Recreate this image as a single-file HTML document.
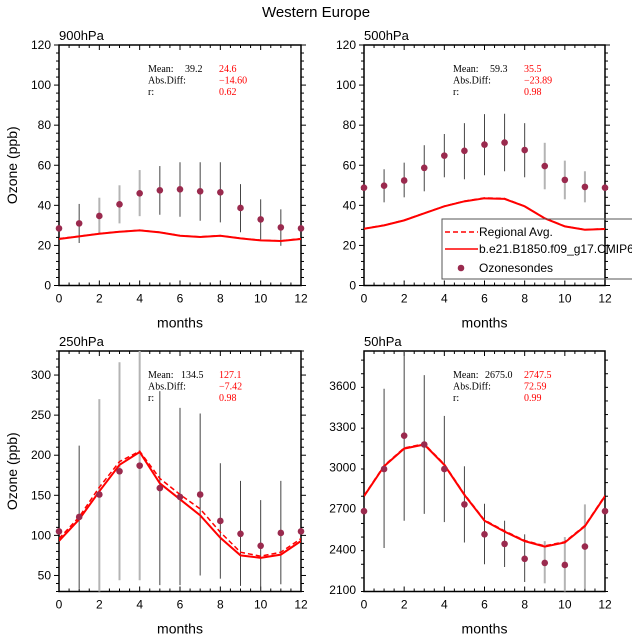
<!DOCTYPE html>
<html><head><meta charset="utf-8"><style>
body{margin:0;background:#fff}
svg text{font-family:"Liberation Sans",sans-serif}
.st{font-family:"Liberation Serif",serif;font-size:10px}
</style></head><body>
<svg id="chart" width="632" height="639" xmlns="http://www.w3.org/2000/svg">
<text x="316" y="17" font-size="15" text-anchor="middle">Western Europe</text>
</svg>
<script>
const months=[0,1,2,3,4,5,6,7,8,9,10,11,12];
// 900hPa
const obs900=[28.5,31,34.7,40.5,46,47.5,48,47,46.5,38.7,33,29,28.5];
const hi900=[null,40.7,43.8,50,57.6,59.6,61.5,61.5,61.5,50.6,43,38,null];
const lo900=[null,21.2,25.5,31,34.6,35.3,34.3,32.3,31.5,26.6,23,19.8,null];
const mod900=[23.2,24.5,25.8,26.8,27.5,26.5,24.8,24.2,24.8,23.5,22.5,22.2,23.2];
const reg900=[23.4,24.6,25.9,26.9,27.6,26.6,24.9,24.3,24.9,23.6,22.6,22.3,23.4];
// 500hPa
const obs500=[48.8,49.8,52.4,58.7,64.8,67.2,70.3,71.3,67.6,59.6,52.7,49.2,48.8];
const hi500=[null,58,61.3,70,75.6,81,85.5,85.7,81,71.2,62.3,57,null];
const lo500=[null,41.5,44,47,54,53,55,57,54,48,43,41.5,null];
const mod500=[28.3,30,32.5,36,39.5,42,43.5,43.2,39.5,33.5,29.5,27.8,28.2];
const reg500=[28.4,30.1,32.6,36.1,39.6,42.1,43.7,43.4,39.6,33.6,29.6,27.9,28.3];
// 250hPa
const obs250=[105,123,151,180,187,159,148,151,118,102,87,103,105];
const hi250=[null,212,270,316,335,280,259,252,190,168,144,168,null];
const lo250=[null,34,30,44,44,38,38,50,46,37,30,39,null];
const mod250=[93,120,155,188,204,165,145,125,97,75,72,76,93];
const reg250=[96,123,160,192,205,171,151,133,104,79,74,79,96];
// 50hPa
const obs50=[2680,2990,3235,3170,2990,2730,2510,2440,2330,2300,2285,2420,2680];
const hi50=[null,3580,3860,3680,3380,3010,2735,2610,2510,2460,2490,2730,null];
const lo50=[null,2410,2610,2660,2600,2450,2290,2270,2160,2150,2090,2110,null];
const mod50=[2790,3010,3140,3170,3020,2800,2610,2530,2460,2420,2450,2570,2790];
const reg50=[2795,3015,3145,3175,3025,2805,2615,2535,2465,2425,2455,2575,2795];
const yt900=[0,20,40,60,80,100,120], yt250=[50,100,150,200,250,300], yt50=[2100,2400,2700,3000,3300,3600];
const xt=[0,2,4,6,8,10,12];

const NS='http://www.w3.org/2000/svg', svg=document.getElementById('chart');
function el(t,a,p){const e=document.createElementNS(NS,t);for(const k in a)e.setAttribute(k,a[k]);(p||svg).appendChild(e);return e;}

function panel(o){
  const g=el('g',{});
  
  
  const X=m=>o.x0+(o.x1-o.x0)*m/12;
  const Y=v=>o.yb-(v-o.ymin)*(o.yb-o.yt)/(o.ymax-o.ymin);
  // frame
  const fr=el('rect',{x:o.x0,y:o.yt,width:o.x1-o.x0,height:o.yb-o.yt,fill:'none',stroke:'#000','stroke-width':1.5},g);
  
  
  // x ticks
  for(let m=0;m<=12;m+=0.5){const maj=m%2===0;const L=maj?5:3;
    el('line',{x1:X(m),x2:X(m),y1:o.yb,y2:o.yb-L,stroke:'#000'},g);
    el('line',{x1:X(m),x2:X(m),y1:o.yt,y2:o.yt+L,stroke:'#000'},g);}
  xt.forEach(m=>{const t=el('text',{x:X(m),y:o.yb+17,'font-size':12,'text-anchor':'middle'},g);t.textContent=m;
    
    });
  // y ticks
  for(let v=o.ymin;v<=o.ymax+1e-6;v+=o.minor){const maj=o.yticks.some(t=>Math.abs(t-v)<1e-6);const L=maj?5:3;
    el('line',{x1:o.x0,x2:o.x0-L,y1:Y(v),y2:Y(v),stroke:'#000'},g);
    el('line',{x1:o.x1,x2:o.x1+L,y1:Y(v),y2:Y(v),stroke:'#000'},g);}
  o.yticks.forEach(v=>{const t=el('text',{x:o.x0-8,y:Y(v)+4,'font-size':12,'text-anchor':'end'},g);t.textContent=v;
    
    });
  // labels
  const lb=el('text',{x:o.x0,y:o.yt-5,'font-size':13},g);lb.textContent=o.label;
  
  
  const xl=el('text',{x:(o.x0+o.x1)/2,y:o.yb+42,'font-size':14,'text-anchor':'middle'},g);xl.textContent='months';
  
  
  if(o.ytitle){const yl=el('text',{x:0,y:0,'font-size':14,'text-anchor':'middle',transform:`translate(17,${(o.yt+o.yb)/2}) rotate(-90)`},g);yl.textContent='Ozone (ppb)';
    
    }
  // clip
  const cid='c'+o.name;const cp=el('clipPath',{id:cid},g);el('rect',{x:o.x0,y:o.yt,width:o.x1-o.x0,height:o.yb-o.yt},cp);
  const pg=el('g',{'clip-path':`url(#${cid})`},g);
  // error bars
  months.forEach((m,i)=>{if(o.hi[i]==null)return;
    const b=el('line',{x1:X(m),x2:X(m),y1:Y(o.hi[i]),y2:Y(o.lo[i]),stroke:o.light.includes(m)?'#b4b4b4':'#444','stroke-width':o.light.includes(m)?2:1},pg);
    
    });
  const pts=a=>a.map((v,i)=>X(months[i])+','+Y(v)).join(' ');
  const r=el('polyline',{points:pts(o.reg),fill:'none',stroke:'#f00','stroke-width':1.5,'stroke-dasharray':'5,3'},pg);
  
  
  const md=el('polyline',{points:pts(o.mod),fill:'none',stroke:'#f00','stroke-width':2},pg);
  
  
  months.forEach((m,i)=>{const c=el('circle',{cx:X(m),cy:Y(o.obs[i]),r:3.3,fill:'#9a2a4e'},g);
    
    });
  // stats
  const sx=o.x0+89, sy=o.yt+27;
  const S=(x,y,s,c,n)=>{const t=el('text',{x,y,class:'st',fill:c},g);t.textContent=s;
    
    };
  S(sx,sy,'Mean:','#000','mean-label');S(sx+o.mx,sy,o.s[0],'#000','obs-mean');S(sx+71,sy,o.s[1],'#f00','model-mean');
  S(sx,sy+11.5,'Abs.Diff:','#000','absdiff-label');S(sx+71,sy+11.5,o.s[2],'#f00','absdiff-value');
  S(sx,sy+23,'r:','#000','r-label');S(sx+71,sy+23,o.s[3],'#f00','r-value');
}
panel({name:'panel-900hpa',label:'900hPa',x0:59,x1:301,yt:45,yb:285.5,ymin:0,ymax:120,minor:4,yticks:yt900,ytitle:true,obs:obs900,hi:hi900,lo:lo900,mod:mod900,reg:reg900,light:[2,3,4],s:['39.2','24.6','\u221214.60','0.62'],mx:37});
panel({name:'panel-500hpa',label:'500hPa',x0:364,x1:605,yt:45,yb:285.5,ymin:0,ymax:120,minor:4,yticks:yt900,ytitle:false,obs:obs500,hi:hi500,lo:lo500,mod:mod500,reg:reg500,light:[9,10,11],s:['59.3','35.5','\u221223.89','0.98'],mx:37});
panel({name:'panel-250hpa',label:'250hPa',x0:59,x1:301,yt:351,yb:591.5,ymin:30,ymax:330,minor:10,yticks:yt250,ytitle:true,obs:obs250,hi:hi250,lo:lo250,mod:mod250,reg:reg250,light:[2,3,4],s:['134.5','127.1','\u22127.42','0.98'],mx:33});
panel({name:'panel-50hpa',label:'50hPa',x0:364,x1:605,yt:351,yb:591.5,ymin:2090,ymax:3857,minor:100,yticks:yt50,ytitle:false,obs:obs50,hi:hi50,lo:lo50,mod:mod50,reg:reg50,light:[9,10,11],s:['2675.0','2747.5','72.59','0.99'],mx:32});
// legend
const lg=el('g',{});


el('rect',{x:442,y:219,width:200,height:60,fill:'none',stroke:'#555'},lg);
el('line',{x1:445,x2:478,y1:232,y2:232,stroke:'#f00','stroke-width':1.5,'stroke-dasharray':'5,3'},lg);
el('line',{x1:445,x2:478,y1:249,y2:249,stroke:'#f00','stroke-width':1.5},lg);
el('circle',{cx:461,cy:268,r:3.3,fill:'#9a2a4e'},lg);
[['Regional Avg.',236,'legend-entry-regional'],['b.e21.B1850.f09_g17.CMIP6-piControl',253,'legend-entry-model'],['Ozonesondes',272,'legend-entry-ozonesondes']].forEach(a=>{
  const t=el('text',{x:479,y:a[1],'font-size':12},lg);t.textContent=a[0];
  
  });
</script>
</body></html>
